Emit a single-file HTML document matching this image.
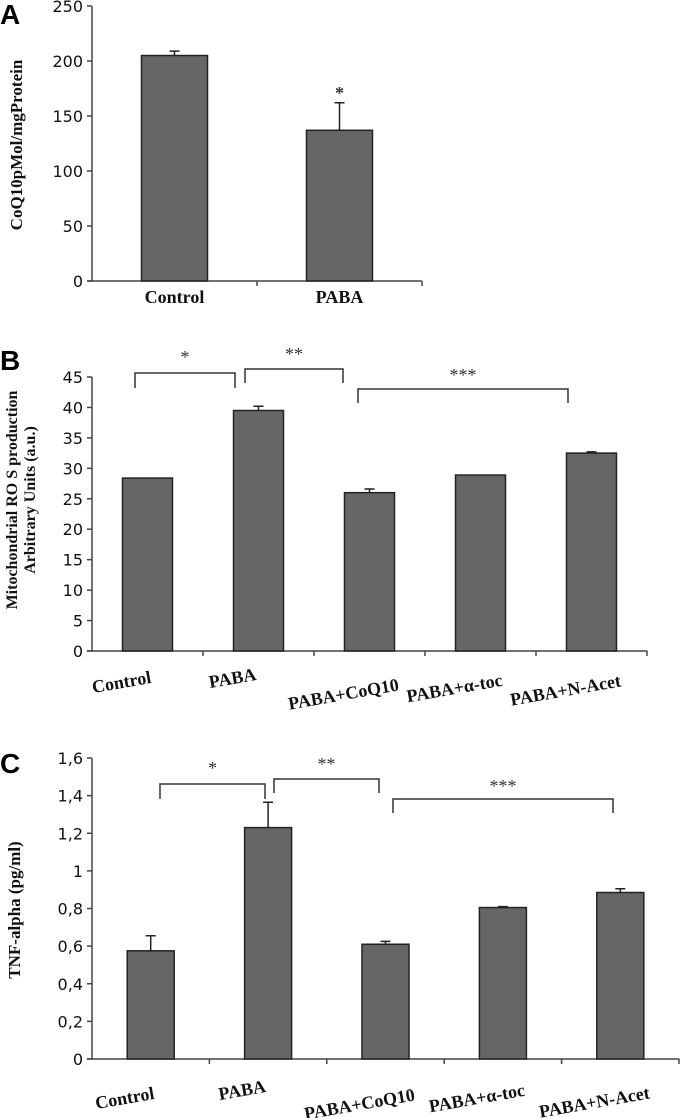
<!DOCTYPE html>
<html><head><meta charset="utf-8"><style>
html,body{margin:0;padding:0;background:#fff;}
svg{display:block;}
.tick{font-family:"DejaVu Sans","Liberation Sans",sans-serif;font-size:16px;fill:#111;}
.cat{font-family:"Liberation Serif",serif;font-weight:bold;font-size:18px;fill:#111;}
.ttl{font-family:"Liberation Serif",serif;font-weight:bold;font-size:17px;fill:#111;}
.let{font-family:"Liberation Sans",sans-serif;font-weight:bold;font-size:28px;fill:#000;}
.star{font-family:"Liberation Serif",serif;font-size:18px;fill:#333;}
</style></head><body>
<svg id="fig" width="680" height="1118">
<text class="let" x="0" y="24">A</text>
<text class="let" x="0" y="370">B</text>
<text class="let" x="0" y="773">C</text>
<text class="ttl" transform="translate(22,145) rotate(-90)" text-anchor="middle">CoQ10pMol/mgProtein</text>
<text class="ttl" style="font-size:16px" transform="translate(17,500) rotate(-90)" text-anchor="middle">Mitochondrial RO S production</text>
<text class="ttl" style="font-size:16px" transform="translate(35,500) rotate(-90)" text-anchor="middle">Arbitrary Units (a.u.)</text>
<text class="ttl" transform="translate(20,910) rotate(-90)" text-anchor="middle">TNF-alpha (pg/ml)</text>
</svg>
<script>
// Panel A data
const aCategories = ["Control", "PABA"];
const aValues = [205, 137];
const aErrors = [4, 25];
const aTicks = [0, 50, 100, 150, 200, 250];
// Panel B data
const bCategories = ["Control", "PABA", "PABA+CoQ10", "PABA+\u03b1-toc", "PABA+N-Acet"];
const bValues = [28.4, 39.5, 26.0, 28.9, 32.5];
const bErrors = [0, 0.7, 0.6, 0, 0.2];
const bTicks = [0, 5, 10, 15, 20, 25, 30, 35, 40, 45];
// Panel C data
const cCategories = ["Control", "PABA", "PABA+CoQ10", "PABA+\u03b1-toc", "PABA+N-Acet"];
const cValues = [0.575, 1.23, 0.61, 0.805, 0.885];
const cErrors = [0.08, 0.135, 0.015, 0.005, 0.02];
const cTicks = [0, 0.2, 0.4, 0.6, 0.8, 1, 1.2, 1.4, 1.6];
const cTickLabels = ["0", "0,2", "0,4", "0,6", "0,8", "1", "1,2", "1,4", "1,6"];

const NS = "http://www.w3.org/2000/svg";
const svg = document.getElementById("fig");
function mk(tag, attrs, parent) {
  const e = document.createElementNS(NS, tag);
  for (const k in attrs) e.setAttribute(k, attrs[k]);
  (parent || svg).appendChild(e);
  return e;
}

function panel(cfg) {
  const g = mk("g", {});
  
  
  const n = cfg.cats.length;
  const cw = (cfg.x1 - cfg.x0) / n;
  const y = v => cfg.yb - (v - cfg.min) / (cfg.max - cfg.min) * (cfg.yb - cfg.yt);
  const xc = i => cfg.x0 + cw * (i + 0.5);
  const ya = mk("line", {x1: cfg.x0, x2: cfg.x0, y1: cfg.yt, y2: cfg.yb, stroke: "#444", "stroke-width": 1.5}, g);
  
  
  cfg.ticks.forEach((t, i) => {
    const tl = mk("line", {x1: cfg.x0 - 5, x2: cfg.x0, y1: y(t), y2: y(t), stroke: "#444", "stroke-width": 1.5}, g);
    
    
    const tx = mk("text", {x: cfg.x0 - 9, y: y(t) + 6, "text-anchor": "end", class: "tick"}, g);
    tx.textContent = cfg.tickLabels ? cfg.tickLabels[i] : String(t);
    
    
  });
  const xa = mk("line", {x1: cfg.x0 - 5, x2: cfg.x1, y1: cfg.yb, y2: cfg.yb, stroke: "#444", "stroke-width": 1.5}, g);
  
  
  for (let i = 1; i <= n; i++) {
    const tk = mk("line", {x1: cfg.x0 + cw * i, x2: cfg.x0 + cw * i, y1: cfg.yb, y2: cfg.yb + 5, stroke: "#444", "stroke-width": 1.5}, g);
    
    
  }
  cfg.vals.forEach((v, i) => {
    const bw = cfg.bw;
    const r = mk("rect", {x: xc(i) - bw / 2, y: y(v), width: bw, height: cfg.yb - y(v), fill: "#666", stroke: "#222", "stroke-width": 1.5}, g);
    
    
    if (cfg.errs[i] > 0) {
      const e1 = mk("path", {d: `M${xc(i)} ${y(v)} V${y(v + cfg.errs[i])} M${xc(i) - 5} ${y(v + cfg.errs[i])} H${xc(i) + 5}`, stroke: "#222", "stroke-width": 1.5, fill: "none"}, g);
      
      
    }
    const lx = xc(i) + cfg.labDx, ly = cfg.labY[i];
    const t = mk("text", {class: "cat", "text-anchor": "middle", transform: `translate(${lx},${ly}) rotate(${cfg.rot})`}, g);
    t.textContent = cfg.cats[i];
    
    
  });
  (cfg.brackets || []).forEach(b => {
    const p = mk("path", {d: `M${b[0]} ${b[3]} V${b[2]} H${b[1]} V${b[3]}`, stroke: "#333", "stroke-width": 1.5, fill: "none"}, g);
    
    
    const s = mk("text", {x: (b[0] + b[1]) / 2, y: b[5], "text-anchor": "middle", class: "star"}, g);
    s.textContent = b[4];
    
    
  });
  return {y, xc};
}

const A = panel({name: "panel-a-chart", cats: aCategories, vals: aValues, errs: aErrors, ticks: aTicks,
  x0: 92, x1: 422, yt: 6, yb: 281, min: 0, max: 250, bw: 66, rot: 0, labDx: 0, labY: [303, 303]});
const sa = mk("text", {x: A.xc(1), y: A.y(aValues[1] + aErrors[1]) - 4, "text-anchor": "middle", class: "star", "font-size": "26", "font-weight": "bold"});
sa.textContent = "*";



panel({name: "panel-b-chart", cats: bCategories, vals: bValues, errs: bErrors, ticks: bTicks,
  x0: 92, x1: 647, yt: 377, yb: 651, min: 0, max: 45, bw: 50, rot: -10, labDx: -25, labY: [688, 684, 700, 694, 696],
  brackets: [[135, 235, 373, 388, "*", 363], [245, 343, 369, 383, "**", 360], [358, 568, 389, 403, "***", 381]]});

panel({name: "panel-c-chart", cats: cCategories, vals: cValues, errs: cErrors, ticks: cTicks, tickLabels: cTickLabels,
  x0: 92, x1: 679, yt: 758, yb: 1059, min: 0, max: 1.6, bw: 47, rot: -10, labDx: -25, labY: [1104, 1096, 1110, 1104, 1108],
  brackets: [[160, 265, 784, 799, "*", 774], [274, 379, 779, 793, "**", 770], [393, 613, 799, 813, "***", 792]]});
</script>
</body></html>
